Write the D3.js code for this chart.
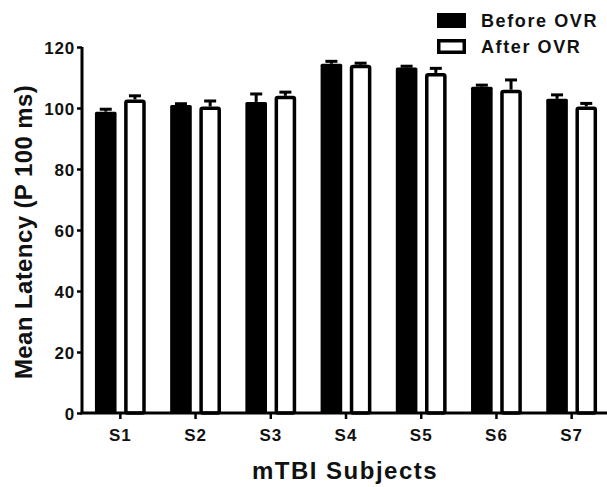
<!DOCTYPE html>
<html>
<head>
<meta charset="utf-8">
<script src="https://cdn.jsdelivr.net/npm/d3@7"></script>
<style>
  html, body { margin: 0; padding: 0; background: #fff; }
  svg { display: block; font-family: "Liberation Sans", Arial, sans-serif; }
</style>
</head>
<body>
<svg id="chart" width="607" height="487"></svg>
<script>
const categories = ["S1", "S2", "S3", "S4", "S5", "S6", "S7"];
const seriesNames = ["Before OVR", "After OVR"];
const beforeValues = [98.8, 101.0, 102.0, 114.5, 113.3, 107.0, 103.0];
const beforeErrors = [0.8, 0.4, 2.6, 0.8, 0.4, 0.5, 1.3];
const afterValues = [102.8, 100.5, 104.0, 114.2, 111.5, 106.0, 100.5];
const afterErrors = [1.2, 1.8, 1.2, 0.5, 1.5, 3.2, 1.0];
const yTicks = [0, 20, 40, 60, 80, 100, 120];

const svg = d3.select("#chart");
const mLeft = 82, mRight = 610, mTop = 47, mBottom = 413;

const x = d3.scaleBand().domain(categories).range([mLeft, mRight])
  .paddingInner(0.3245).paddingOuter(0.172);
const xs = d3.scaleBand().domain(seriesNames).range([0, x.bandwidth()]).paddingInner(0.26);
const y = d3.scaleLinear().domain([0, 120]).range([mBottom, mTop]);

const data = categories.map((c, i) => ({
  cat: c,
  vals: [
    { s: seriesNames[0], v: beforeValues[i], e: beforeErrors[i] },
    { s: seriesNames[1], v: afterValues[i], e: afterErrors[i] }
  ]
}));

const sw = 3.5;
const groups = svg.append("g").selectAll("g").data(data).join("g")
  .attr("transform", d => `translate(${x(d.cat)},0)`);

groups.selectAll("g.err").data(d => d.vals).join("g").attr("class", "err")
  .each(function(d) {
    const g = d3.select(this);
    const cx = xs(d.s) + xs.bandwidth() / 2;
    g.append("line").attr("x1", cx).attr("x2", cx)
      .attr("y1", y(d.v)).attr("y2", y(d.v + d.e))
      .attr("stroke", "#000").attr("stroke-width", 3);
    g.append("line").attr("x1", cx - 6).attr("x2", cx + 6)
      .attr("y1", y(d.v + d.e)).attr("y2", y(d.v + d.e))
      .attr("stroke", "#000").attr("stroke-width", 3);
  });

groups.selectAll("rect").data(d => d.vals).join("rect")
  .attr("x", d => d.s === seriesNames[0] ? xs(d.s) : xs(d.s) + sw / 2)
  .attr("width", d => d.s === seriesNames[0] ? xs.bandwidth() : xs.bandwidth() - sw)
  .attr("y", d => d.s === seriesNames[0] ? y(d.v) : y(d.v) + sw / 2)
  .attr("height", d => d.s === seriesNames[0] ? y(0) - y(d.v) : y(0) - y(d.v) - sw / 2)
  .attr("rx", 1.5)
  .attr("fill", d => d.s === seriesNames[0] ? "#000" : "#fff")
  .attr("stroke", d => d.s === seriesNames[0] ? "none" : "#000")
  .attr("stroke-width", sw);

// Y axis
const yAxis = svg.append("g").attr("transform", `translate(${mLeft},0)`)
  .call(d3.axisLeft(y).tickValues(yTicks).tickSize(5).tickPadding(2));
yAxis.select(".domain").attr("d", `M0,${mTop}V${mBottom}`).attr("stroke", "#000").attr("stroke-width", 3);
yAxis.selectAll(".tick line").attr("stroke", "#000").attr("stroke-width", 2.5);
yAxis.selectAll(".tick text").attr("font-size", 17).attr("font-weight", "bold")
  .attr("fill", "#111").style("letter-spacing", "0.8px").attr("dy", "0.36em");

// X axis
const xAxis = svg.append("g").attr("transform", `translate(0,${mBottom})`)
  .call(d3.axisBottom(x).tickSize(6).tickPadding(10));
xAxis.select(".domain").attr("d", `M${mLeft - 1.5},0H607`).attr("stroke", "#000").attr("stroke-width", 3);
xAxis.selectAll(".tick line").attr("stroke", "#000").attr("stroke-width", 2.5);
xAxis.selectAll(".tick text").attr("font-size", 17).attr("font-weight", "bold")
  .attr("fill", "#111").style("letter-spacing", "1px");

// Axis titles
svg.append("text").attr("x", 345).attr("y", 479).attr("text-anchor", "middle")
  .attr("font-size", 24).attr("font-weight", "bold").style("letter-spacing", "1.5px")
  .attr("fill", "#111").text("mTBI Subjects");
svg.append("text").attr("transform", "translate(32,232) rotate(-90)")
  .attr("text-anchor", "middle").attr("font-size", 24).attr("font-weight", "bold")
  .style("letter-spacing", "0.4px")
  .attr("fill", "#111").text("Mean Latency (P 100 ms)");

// Legend
const legend = svg.append("g");
seriesNames.forEach((s, i) => {
  const ly = 13 + i * 26;
  legend.append("rect")
    .attr("x", i === 0 ? 437 : 437 + sw / 2).attr("y", i === 0 ? ly : ly + sw / 2)
    .attr("width", i === 0 ? 29 : 29 - sw).attr("height", i === 0 ? 15 : 15 - sw)
    .attr("fill", i === 0 ? "#000" : "#fff").attr("stroke", i === 0 ? "none" : "#000")
    .attr("stroke-width", sw);
  legend.append("text").attr("x", 481).attr("y", ly + 14)
    .attr("font-size", 18).attr("font-weight", "bold").style("letter-spacing", "1.6px")
    .attr("fill", "#111").text(s);
});
</script>
</body>
</html>
